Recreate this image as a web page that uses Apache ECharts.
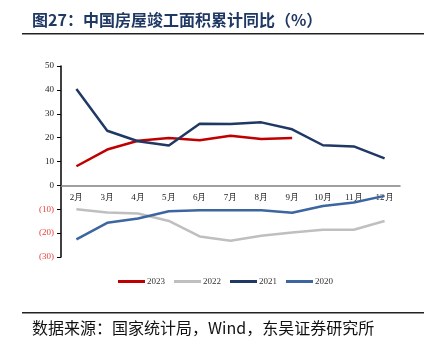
<!DOCTYPE html>
<html>
<head>
<meta charset="utf-8">
<script src="https://cdn.jsdelivr.net/npm/echarts@6/dist/echarts.min.js"></script>
<style>
    html, body { margin: 0; padding: 0; background: #fff; }
    #main { width: 429px; height: 354px; }
</style>
</head>
<body>
<div id="main"></div>
<script>
    const months = ['2月', '3月', '4月', '5月', '6月', '7月', '8月', '9月', '10月', '11月', '12月'];
    const y2023 = [8.0, 15.0, 18.7, 19.8, 18.9, 20.8, 19.4, 19.8];
    const y2022 = [-10.0, -11.4, -11.8, -14.9, -21.4, -23.2, -21.1, -19.7, -18.6, -18.6, -14.9];
    const y2021 = [40.4, 22.9, 18.5, 16.7, 25.8, 25.7, 26.4, 23.5, 16.8, 16.3, 11.3];
    const y2020 = [-22.6, -15.7, -13.9, -10.8, -10.4, -10.4, -10.4, -11.5, -8.6, -7.2, -4.4];

    const serif = '"Liberation Serif", "Times New Roman", serif';
    const cjk = '"Noto Sans CJK SC", sans-serif';

    function line(name, data, color) {
        return {
            name: name,
            type: 'line',
            data: data,
            symbol: 'none',
            lineStyle: {color: color, width: 2.5},
            itemStyle: {color: color}
        };
    }

    // zero sits 50/80 of the way down the grid (top 66, height 191)
    const zeroOffset = -191 * 30 / 80;

    const myChart = echarts.init(document.getElementById('main'));
    const option = {
        animation: false,
        grid: {left: 61, right: 29, top: 66, bottom: 97},
        legend: {
            top: 272,
            left: 113,
            icon: 'rect',
            itemWidth: 27,
            itemHeight: 3,
            itemGap: 9,
            textStyle: {fontFamily: serif, fontSize: 9, color: '#333', padding: [0, 0, 0, -3]},
            data: ['2023', '2022', '2021', '2020']
        },
        xAxis: {
            type: 'category',
            data: months,
            offset: zeroOffset,
            axisLine: {onZero: false, lineStyle: {color: '#808080', width: 1.5}},
            axisTick: {lineStyle: {color: '#555'}, length: 4},
            axisLabel: {fontFamily: serif, fontSize: 9, color: '#222', margin: 8}
        },
        yAxis: {
            type: 'value',
            min: -30,
            max: 50,
            interval: 10,
            splitLine: {show: false},
            axisLine: {show: true, lineStyle: {color: '#000', width: 1.5}},
            axisTick: {show: true, length: 4, lineStyle: {color: '#000'}},
            axisLabel: {
                fontFamily: serif,
                fontSize: 9,
                color: '#222',
                margin: 7,
                formatter: v => v < 0 ? '{neg|(' + (-v) + ')}' : String(v),
                rich: {neg: {color: '#e8403a', fontFamily: serif, fontSize: 9}}
            }
        },
        series: [
            line('2023', y2023, '#c00000'),
            line('2022', y2022, '#bfbfbf'),
            line('2021', y2021, '#1f3864'),
            line('2020', y2020, '#3d65a0')
        ],
        graphic: [
            {
                type: 'text', left: 32, top: 12,
                style: {text: '图27：中国房屋竣工面积累计同比（%）', font: 'bold 16px ' + cjk, fill: '#1f3864'}
            },
            {
                type: 'rect', shape: {x: 22, y: 33, width: 402, height: 1.5},
                style: {fill: '#222'}
            },
            {
                type: 'rect', shape: {x: 22, y: 312, width: 402, height: 1.5},
                style: {fill: '#222'}
            },
            {
                type: 'text', left: 32, top: 320,
                style: {text: '数据来源：国家统计局，Wind，东吴证券研究所', font: '16px ' + cjk, fill: '#111'}
            }
        ]
    };
    myChart.setOption(option);
</script>
</body>
</html>
